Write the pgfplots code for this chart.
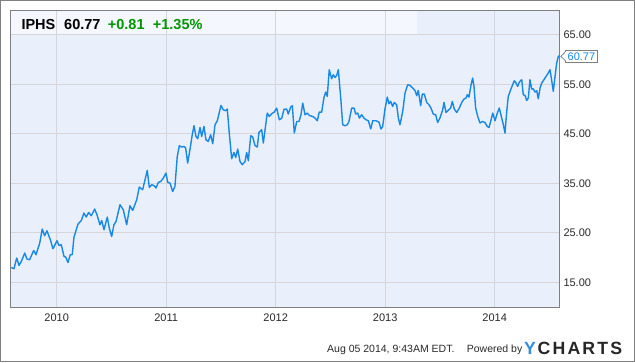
\documentclass[border=0pt]{standalone}
\usepackage{pgfplots}
\pgfplotsset{compat=1.18}
\usepackage{fontspec}
\setmainfont{Liberation Sans}
\newfontfamily\logofont[LetterSpace=12]{Liberation Sans}
\definecolor{bgcol}{RGB}{234,240,251}
\definecolor{headcol}{RGB}{244,247,253}
\definecolor{gridcol}{RGB}{214,214,218}
\definecolor{framecol}{RGB}{128,128,128}
\definecolor{linecol}{RGB}{24,136,229}
\definecolor{tickcol}{RGB}{40,40,40}
\definecolor{upgreen}{RGB}{0,150,0}
\definecolor{ylogo}{RGB}{52,140,220}
\pgfplotstableread{
x y
2009.585 17.99
2009.610 17.73
2009.635 19.89
2009.656 18.39
2009.677 19.20
2009.708 20.90
2009.729 19.69
2009.753 19.55
2009.790 21.42
2009.811 20.56
2009.845 22.92
2009.868 25.75
2009.890 24.39
2009.911 25.40
2009.942 23.59
2009.966 21.77
2010.003 23.38
2010.021 22.43
2010.042 22.58
2010.067 20.21
2010.082 20.09
2010.103 19.00
2010.124 20.56
2010.142 20.56
2010.158 24.13
2010.195 26.76
2010.225 27.48
2010.249 28.98
2010.270 28.17
2010.292 29.10
2010.316 28.43
2010.347 29.79
2010.368 28.64
2010.395 26.62
2010.411 27.48
2010.432 25.61
2010.462 28.17
2010.480 25.95
2010.502 24.25
2010.523 26.62
2010.542 27.28
2010.578 30.66
2010.608 29.65
2010.639 26.62
2010.669 30.45
2010.694 29.51
2010.731 31.67
2010.754 34.23
2010.785 33.69
2010.827 37.59
2010.846 34.15
2010.868 34.70
2010.891 34.49
2010.907 34.03
2010.928 35.16
2010.950 35.36
2010.974 36.05
2010.998 37.06
2011.014 35.16
2011.035 35.04
2011.059 33.34
2011.080 34.35
2011.101 40.41
2011.120 42.58
2011.142 42.31
2011.163 42.43
2011.178 42.11
2011.196 39.08
2011.217 41.77
2011.238 44.80
2011.254 46.62
2011.272 44.45
2011.288 43.99
2011.309 46.27
2011.324 44.45
2011.345 46.47
2011.363 43.79
2011.384 43.44
2011.406 44.80
2011.425 42.98
2011.446 46.82
2011.467 47.63
2011.500 50.72
2011.521 49.85
2011.543 49.65
2011.558 49.99
2011.576 45.14
2011.598 39.95
2011.619 41.22
2011.635 40.21
2011.653 41.91
2011.674 39.40
2011.695 38.74
2011.720 39.40
2011.735 41.22
2011.750 39.55
2011.772 44.60
2011.790 44.33
2011.811 42.64
2011.832 42.31
2011.847 45.26
2011.872 45.81
2011.887 43.12
2011.923 49.18
2011.942 48.49
2011.963 49.04
2011.987 49.38
2012.009 50.19
2012.033 47.83
2012.055 48.13
2012.076 49.95
2012.100 49.99
2012.115 48.98
2012.137 50.39
2012.152 50.66
2012.170 45.14
2012.192 47.48
2012.213 47.48
2012.231 48.84
2012.247 51.20
2012.268 48.84
2012.289 49.18
2012.307 48.70
2012.338 48.49
2012.359 48.17
2012.380 47.63
2012.398 49.38
2012.420 49.38
2012.441 52.33
2012.457 53.42
2012.471 52.54
2012.489 57.93
2012.511 56.11
2012.526 56.92
2012.542 56.37
2012.557 56.78
2012.572 57.93
2012.594 52.21
2012.612 46.82
2012.633 46.62
2012.654 46.82
2012.669 47.48
2012.694 50.19
2012.715 50.19
2012.731 48.98
2012.749 49.18
2012.764 48.17
2012.785 48.84
2012.806 48.17
2012.825 47.83
2012.846 47.63
2012.868 45.97
2012.886 47.63
2012.916 47.63
2012.943 47.36
2012.962 45.95
2012.977 46.47
2012.998 49.99
2013.019 52.41
2013.034 51.06
2013.050 51.53
2013.068 50.52
2013.083 51.32
2013.105 50.86
2013.120 48.17
2013.135 46.82
2013.160 49.51
2013.181 53.22
2013.205 54.90
2013.226 54.76
2013.251 54.23
2013.272 53.75
2013.288 52.68
2013.302 53.75
2013.324 50.66
2013.339 53.02
2013.357 53.02
2013.379 51.32
2013.400 50.86
2013.418 50.19
2013.439 48.98
2013.461 48.84
2013.479 47.28
2013.500 48.17
2013.525 49.85
2013.537 51.32
2013.555 49.30
2013.576 49.71
2013.598 50.19
2013.613 51.53
2013.631 49.99
2013.653 49.30
2013.677 50.19
2013.699 51.32
2013.720 52.01
2013.738 52.21
2013.750 52.88
2013.765 52.41
2013.784 54.90
2013.799 56.25
2013.811 54.56
2013.826 50.19
2013.845 48.49
2013.866 47.16
2013.887 47.48
2013.911 47.28
2013.932 46.47
2013.948 46.27
2013.963 47.48
2013.982 49.18
2014.003 47.63
2014.024 49.18
2014.042 50.19
2014.064 48.17
2014.079 46.82
2014.094 45.14
2014.110 49.51
2014.124 52.54
2014.146 53.89
2014.164 54.90
2014.179 55.71
2014.195 55.24
2014.210 54.56
2014.225 55.44
2014.247 55.91
2014.261 52.88
2014.277 52.74
2014.292 51.73
2014.307 52.21
2014.322 55.91
2014.338 54.03
2014.352 54.09
2014.368 53.42
2014.384 53.69
2014.398 52.07
2014.414 54.23
2014.429 55.24
2014.444 55.71
2014.459 56.25
2014.475 56.78
2014.489 57.26
2014.505 57.93
2014.521 55.71
2014.535 53.55
2014.551 56.58
2014.566 59.28
2014.581 60.62
2014.588 60.77
}\pricetable
\begin{document}
\begin{tikzpicture}[x=1pt,y=1pt]
\begin{axis}[
  at={(10.7pt,55pt)}, anchor=south west,
  scale only axis, width=548.6pt, height=297pt,
  xmin=2009.58, xmax=2014.59, ymin=10, ymax=70,
  xtick={2010,2011,2012,2013,2014},
  xticklabels={2010,2011,2012,2013,2014},
  ytick={15,25,35,45,55,65},
  yticklabels={15.00,25.00,35.00,45.00,55.00,65.00},
  yticklabel pos=right,
  grid=major,
  major grid style={draw=gridcol, line width=0.9pt},
  major tick length=0pt,
  axis line style={draw=framecol, line width=1pt},
  tick label style={font=\fontsize{11}{13}\selectfont, text=tickcol},
  xticklabel style={anchor=north, inner sep=0pt, yshift=-6.5pt},
  yticklabel style={anchor=west, inner sep=0pt, xshift=4pt},
  set layers,
  clip=true,
]
\addplot[fill=bgcol, draw=none, on layer=axis background] coordinates {(2009.58,10) (2014.59,10) (2014.59,70) (2009.58,70)} -- cycle;
\addplot[fill=headcol, draw=none, on layer=axis background] coordinates {(2009.58,65) (2013.29,65) (2013.29,70) (2009.58,70)} -- cycle;
\addplot[color=linecol, line width=1.4pt, line join=round, mark=none] table[x=x,y=y] {\pricetable};
\end{axis}
\draw[framecol, line width=1.2pt] (0.6,0.6) rectangle (634.4,361.4);
% header text
\node[anchor=base west, inner sep=0pt, font=\fontsize{14.5}{16}\selectfont\bfseries] at (21.3,332.7) {IPHS};
\node[anchor=base west, inner sep=0pt, font=\fontsize{14.5}{16}\selectfont\bfseries] at (64,332.7) {60.77};
\node[anchor=base west, inner sep=0pt, font=\fontsize{14.5}{16}\selectfont\bfseries, text=upgreen] at (107.7,332.7) {+0.81};
\node[anchor=base west, inner sep=0pt, font=\fontsize{14.5}{16}\selectfont\bfseries, text=upgreen] at (152.7,332.7) {+1.35\%};
% price tag
\node[draw=framecol, fill=white, line width=0.8pt, inner xsep=2pt, inner ysep=2.5pt, anchor=west, font=\fontsize{11}{13}\selectfont, text=linecol] (pl) at (565.3,305.7) {60.77};
\draw[framecol, fill=white, line width=0.8pt] (565.3,310) -- (560.8,305.7) -- (565.3,301.4);
\fill[white] (564.8,301.9) rectangle (565.8,309.5);
% footer
\node[anchor=base west, inner sep=0pt, font=\fontsize{10.5}{12}\selectfont, text=tickcol] at (327,9.3) {Aug 05 2014, 9:43AM EDT.};
\node[anchor=base west, inner sep=0pt, font=\fontsize{10.5}{12}\selectfont, text=tickcol] at (466.7,9.3) {Powered by};
\node[anchor=base west, inner sep=0pt, font=\fontsize{17.7}{19}\selectfont\bfseries, text=ylogo] at (524,7.7) {Y};
\node[anchor=base west, inner sep=0pt, font=\logofont\fontsize{17.7}{19}\selectfont\bfseries, text=black!85] at (537.5,7.7) {CHARTS};
\useasboundingbox (0,0) rectangle (635,362);
\end{tikzpicture}
\end{document}
